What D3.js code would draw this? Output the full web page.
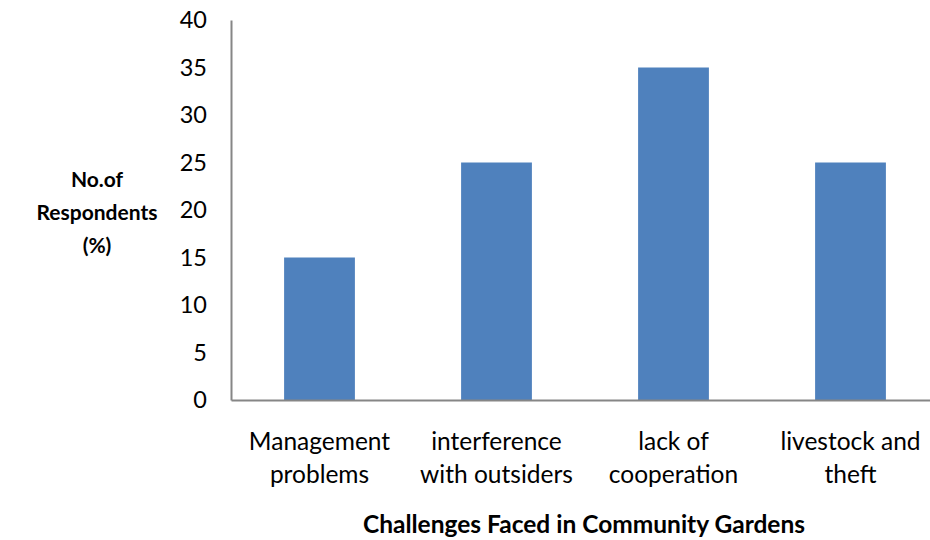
<!DOCTYPE html>
<html>
<head>
<meta charset="utf-8">
<script src="https://cdn.jsdelivr.net/npm/d3@7"></script>
<style>
  html, body { margin: 0; padding: 0; background: #fff; }
  svg { display: block; font-family: Lato, "Open Sans", sans-serif; }
</style>
</head>
<body>
<svg id="chart" width="930" height="540"></svg>
<script>
// Challenges faced in community gardens (% of respondents)
const categories = [
  ["Management", "problems"],
  ["interference", "with outsiders"],
  ["lack of", "cooperation"],
  ["livestock and", "theft"]
];
const values = [15, 25, 35, 25];
const yTicks = [0, 5, 10, 15, 20, 25, 30, 35, 40];

const svg = d3.select("#chart");
const plot = { left: 231, right: 939, top: 20, bottom: 400 };

const x = d3.scaleBand()
  .domain(d3.range(categories.length))
  .range([plot.left, plot.right])
  .paddingInner(0.6)
  .paddingOuter(0.3);

const y = d3.scaleLinear().domain([0, 40]).range([plot.bottom, plot.top]);

// bars
svg.append("g").selectAll("rect")
  .data(values)
  .join("rect")
  .attr("x", (d, i) => x(i))
  .attr("y", d => y(d))
  .attr("width", x.bandwidth())
  .attr("height", d => y(0) - y(d))
  .attr("fill", "#4F81BD");

// y axis
const yAxis = svg.append("g")
  .attr("transform", `translate(${plot.left},0)`)
  .call(d3.axisLeft(y).tickValues(yTicks).tickSize(0).tickPadding(24));
yAxis.select(".domain").attr("stroke", "#868686").attr("stroke-width", 2);
yAxis.selectAll("text")
  .attr("font-size", 23.5)
  .attr("fill", "#000")
  .style("font-family", "Lato, 'Open Sans', sans-serif");

// x axis
const xAxis = svg.append("g")
  .attr("transform", `translate(0,${plot.bottom})`)
  .call(d3.axisBottom(x).tickSize(0).tickFormat(""));
xAxis.select(".domain").attr("stroke", "#868686").attr("stroke-width", 2);

// category labels (two lines each)
const labels = svg.append("g").selectAll("text")
  .data(categories)
  .join("text")
  .attr("text-anchor", "middle")
  .attr("font-size", 24.5)
  .attr("fill", "#000");
labels.each(function(lines, i) {
  const t = d3.select(this);
  lines.forEach((ln, j) => {
    t.append("tspan")
      .attr("x", x(i) + x.bandwidth() / 2)
      .attr("y", 450 + j * 33)
      .text(ln);
  });
});

// axis titles
const yTitle = svg.append("text")
  .attr("text-anchor", "middle")
  .attr("font-size", 21)
  .attr("font-weight", "bold")
  .attr("fill", "#000");
["No.of", "Respondents", "(%)"].forEach((ln, j) => {
  yTitle.append("tspan").attr("x", 97).attr("y", 187 + j * 33).text(ln);
});

svg.append("text")
  .attr("x", 584)
  .attr("y", 533)
  .attr("text-anchor", "middle")
  .attr("font-size", 24.5)
  .attr("font-weight", "bold")
  .attr("fill", "#000")
  .text("Challenges Faced in Community Gardens");
</script>
</body>
</html>
